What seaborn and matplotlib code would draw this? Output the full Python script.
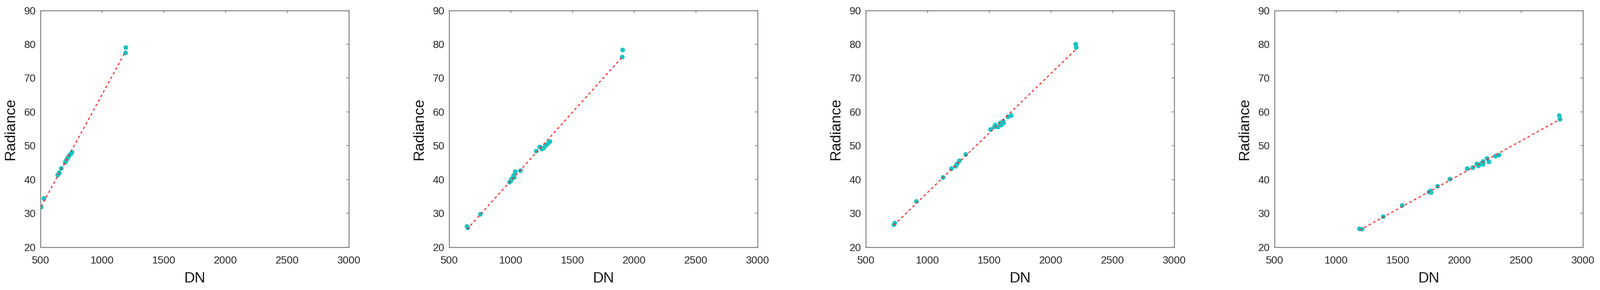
import numpy as np
import pandas as pd
import matplotlib
matplotlib.use('Agg')
import matplotlib.pyplot as plt
import seaborn as sns

# ── Data (DN vs Radiance) ────────────────────────────────────
dn_1 = [505, 528, 640, 646, 652, 668, 700, 705, 712, 719, 726, 734, 745, 755, 1190, 1192]
rad_1 = [31.8, 34.4, 41.3, 41.6, 42.0, 43.3, 45.0, 45.4, 45.8, 46.3, 46.6, 47.1, 47.5, 48.0, 77.4, 79.0]

dn_2 = [644, 651, 753, 990, 1000, 1007, 1022, 1027, 1035, 1078, 1205, 1234, 1251, 1266,
        1282, 1300, 1317, 1903, 1906]
rad_2 = [26.1, 25.7, 29.7, 39.2, 39.6, 40.2, 41.2, 40.6, 42.3, 42.6, 48.4, 49.6, 49.0, 49.3,
         50.0, 50.6, 51.2, 76.2, 78.3]

dn_3 = [727, 734, 910, 1126, 1194, 1228, 1239, 1258, 1310, 1511, 1542, 1549, 1572, 1590,
        1597, 1613, 1617, 1652, 1679, 2201, 2205]
rad_3 = [26.6, 27.1, 33.5, 40.6, 43.2, 43.9, 44.6, 45.5, 47.4, 54.8, 55.5, 56.1, 55.5, 56.7,
         56.1, 57.2, 56.7, 58.5, 58.9, 80.0, 79.0]

dn_4 = [1188, 1208, 1381, 1534, 1752, 1764, 1770, 1821, 1921, 2061, 2107, 2140, 2153, 2173,
        2189, 2191, 2222, 2238, 2291, 2319, 2808, 2814]
rad_4 = [25.4, 25.3, 29.0, 32.3, 36.3, 36.6, 36.1, 38.0, 40.1, 43.2, 43.5, 44.6, 44.0, 44.6,
         45.3, 44.5, 46.2, 45.2, 46.9, 47.2, 58.9, 57.8]

x_ticks = [500, 1000, 1500, 2000, 2500, 3000]
y_ticks = [20, 30, 40, 50, 60, 70, 80, 90]

panels = [(dn_1, rad_1), (dn_2, rad_2), (dn_3, rad_3), (dn_4, rad_4)]

# ── Style ────────────────────────────────────────────────────
sns.set_theme(style='white')
plt.rcParams['font.family'] = ['Liberation Sans', 'DejaVu Sans']

W, H = 4228, 767
fig = plt.figure(figsize=(W / 100, H / 100), dpi=100)

lefts = [107, 1187, 2288, 3368]
ax_w, ax_top, ax_bot = 815, 27.5, 653.5

for left, (xs, ys) in zip(lefts, panels):
    ax = fig.add_axes([left / W, (H - ax_bot) / H, ax_w / W, (ax_bot - ax_top) / H])
    df = pd.DataFrame({'DN': xs, 'Radiance': ys})
    sns.regplot(data=df, x='DN', y='Radiance', ax=ax, ci=None,
                scatter_kws=dict(s=80, color='#1cc3c3', edgecolor='none', alpha=1),
                line_kws=dict(color='#ff1a1a', lw=1.9, ls=(0, (2.6, 2.6))))
    ax.set_xlim(500, 3000)
    ax.set_ylim(20, 90)
    ax.set_xticks(x_ticks)
    ax.set_yticks(y_ticks)
    for sp in ax.spines.values():
        sp.set_visible(True)
        sp.set_color('#8c8c8c')
        sp.set_linewidth(2.0)
    ax.tick_params(axis='both', direction='in', length=5, width=1.6, color='#8c8c8c',
                   top=True, right=True, labelsize=20, labelcolor='#262626')
    ax.tick_params(axis='x', pad=17)
    ax.tick_params(axis='y', pad=9)
    ax.set_xlabel('DN', fontsize=28, color='#111111')
    ax.set_ylabel('Radiance', fontsize=28, color='#111111')
    ax.xaxis.set_label_coords(0.5, -0.105)
    ax.yaxis.set_label_coords(-0.075, 0.5)

fig.savefig('out.png', dpi=100, facecolor='white')
plt.close(fig)
